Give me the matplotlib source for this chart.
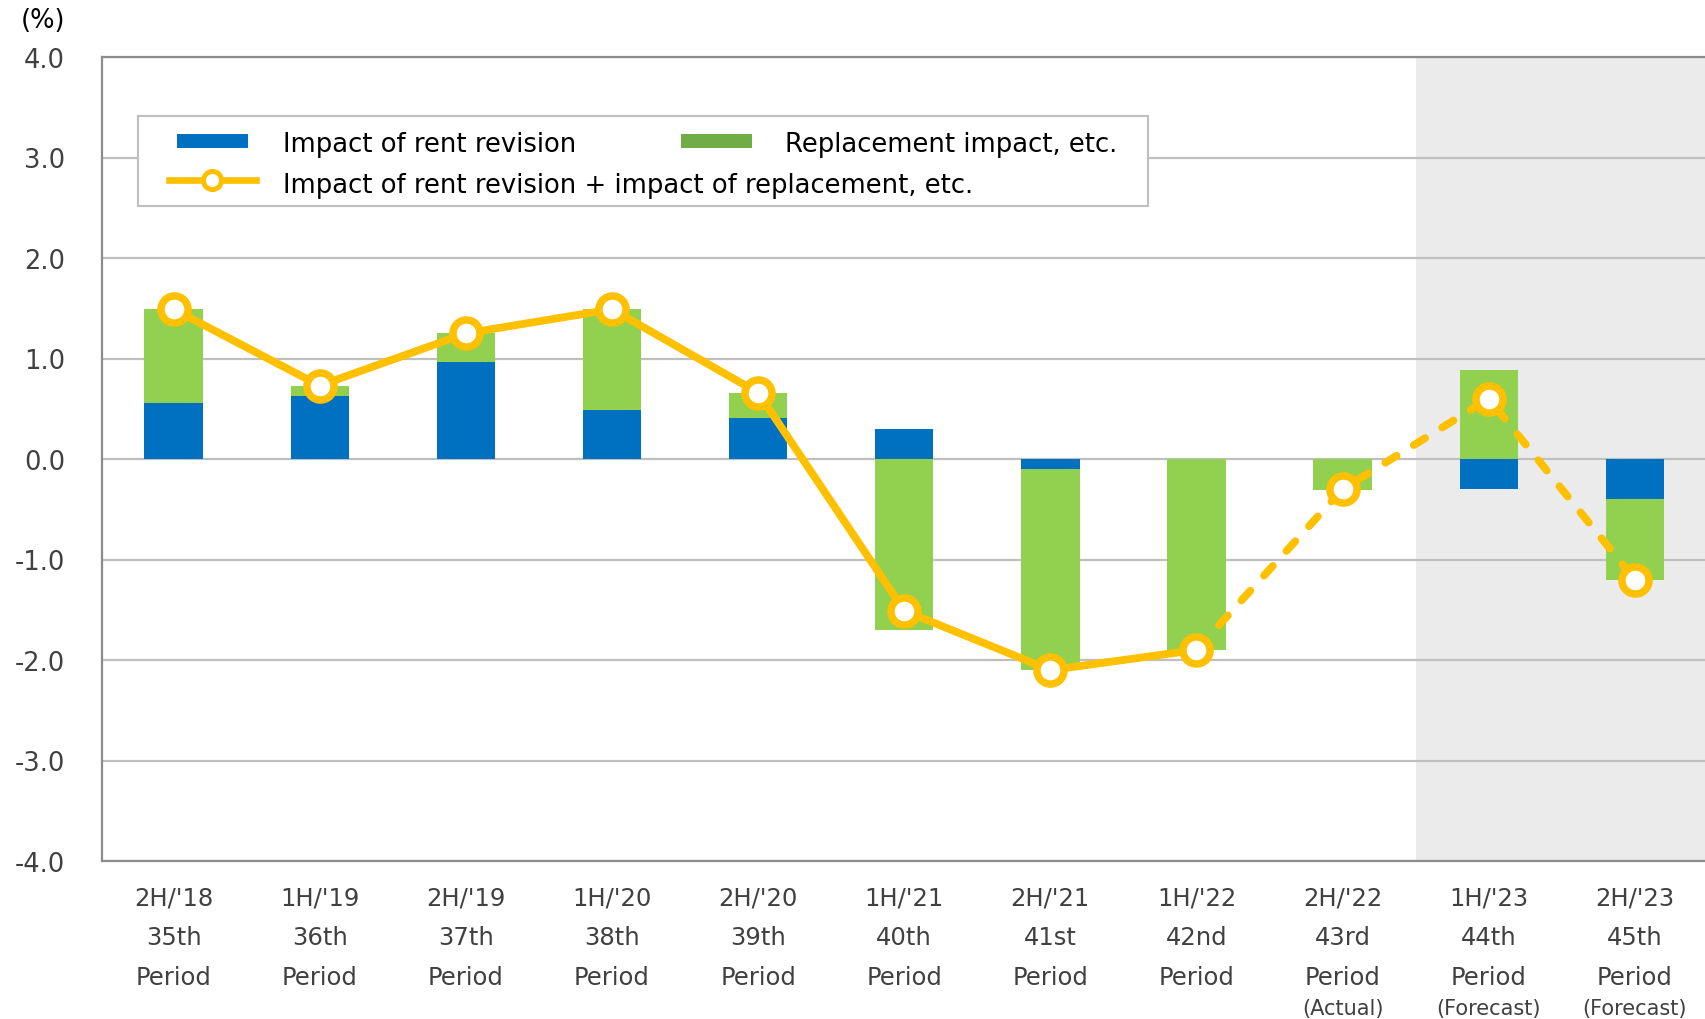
import matplotlib
matplotlib.use("Agg")
import matplotlib.pyplot as plt
from matplotlib.patches import Rectangle
from matplotlib.lines import Line2D
from matplotlib.ticker import FormatStrFormatter
from matplotlib.transforms import blended_transform_factory
import numpy as np

plt.rcParams["font.family"] = ["DejaVu Sans"]
plt.rcParams["axes.unicode_minus"] = False

# ---- data -------------------------------------------------------------
half_years = ["2H/'18", "1H/'19", "2H/'19", "1H/'20", "2H/'20", "1H/'21",
              "2H/'21", "1H/'22", "2H/'22", "1H/'23", "2H/'23"]
period_names = ["35th", "36th", "37th", "38th", "39th", "40th",
                "41st", "42nd", "43rd", "44th", "45th"]
status_notes = ["", "", "", "", "", "", "", "", "(Actual)", "(Forecast)", "(Forecast)"]

rent_revision = [0.56, 0.63, 0.97, 0.49, 0.41, 0.30, -0.10, 0.00, 0.00, -0.30, -0.40]
replacement = [0.93, 0.10, 0.28, 1.00, 0.25, -1.70, -2.00, -1.90, -0.31, 0.89, -0.80]
combined = [1.49, 0.73, 1.25, 1.49, 0.66, -1.51, -2.10, -1.90, -0.30, 0.60, -1.20]

y_ticks = [-4.0, -3.0, -2.0, -1.0, 0.0, 1.0, 2.0, 3.0, 4.0]
last_actual = 7          # solid line up to this period, dashed afterwards
forecast_start = 8.5     # shaded forecast zone begins here

# ---- styles -----------------------------------------------------------
BLUE = "#0070C0"
GREEN = "#92D050"
GREEN_KEY = "#70AD47"
GOLD = "#FFC000"
GRID = "#BFBFBF"
SPINE = "#8C8C8C"
LABEL = "#404040"

W, H = 1705, 1020
fig = plt.figure(figsize=(W / 100, H / 100), dpi=100)
ax = fig.add_axes([102 / W, (H - 862) / H, (W - 102) / W, 804 / H])

x = np.arange(len(half_years))

ax.axvspan(forecast_start, 11, facecolor="#EBEBEB", edgecolor="none", zorder=0.2)

# stacked bars: positives stack upward, negatives stack downward
pos_base = np.zeros(len(x))
neg_base = np.zeros(len(x))
for vals, col in ((rent_revision, BLUE), (replacement, GREEN)):
    vals = np.asarray(vals)
    base = np.where(vals >= 0, pos_base, neg_base)
    ax.bar(x, vals, width=0.4, bottom=base, color=col, zorder=2)
    pos_base = pos_base + np.clip(vals, 0, None)
    neg_base = neg_base + np.clip(vals, None, 0)

line_kw = dict(color=GOLD, lw=5.6, solid_capstyle="round", solid_joinstyle="round", zorder=3)
ax.plot(x[:last_actual + 1], combined[:last_actual + 1], **line_kw)
ax.plot(x[last_actual:], combined[last_actual:], linestyle=(0, (1.7, 2.6)),
        dash_capstyle="round", **line_kw)
ax.plot(x, combined, linestyle="none", marker="o", ms=19.5, mew=5.4,
        mfc="white", mec=GOLD, zorder=4)

ax.set_xlim(-0.49, 10.48)
ax.set_ylim(-4, 4)
ax.set_yticks(y_ticks)
ax.yaxis.set_major_formatter(FormatStrFormatter("%.1f"))
ax.tick_params(axis="y", length=0, pad=26.6, labelsize=18.5, labelcolor=LABEL)
ax.grid(axis="y", color=GRID, lw=1.6)
ax.set_axisbelow(True)

ax.set_xticks(x)
ax.set_xticklabels([f"{h}\n{p}\nPeriod" for h, p in zip(half_years, period_names)],
                   linespacing=1.83)
ax.tick_params(axis="x", length=0, pad=17.5, labelsize=17.5, labelcolor=LABEL)

for side in ("left", "bottom", "top"):
    ax.spines[side].set_color(SPINE)
    ax.spines[side].set_linewidth(1.6)
ax.spines["right"].set_visible(False)

# ---- overlay in pixel coordinates for legend and unit label ------------
ov = fig.add_axes([0, 0, 1, 1], zorder=5)
ov.set_xlim(0, W)
ov.set_ylim(H, 0)
ov.axis("off")

note_tf = blended_transform_factory(ax.transData, ov.transData)
for xi, note in zip(x, status_notes):
    if note:
        ov.text(xi, 1015, note, transform=note_tf, ha="center", va="baseline",
                fontsize=15, color=LABEL)

ov.text(43, 21, "(%)", ha="center", va="center", fontsize=18.5, color="black")

ov.add_patch(Rectangle((138, 117), 1010, 90, facecolor="white", edgecolor=GRID, lw=1.5))
ov.add_patch(Rectangle((177, 135), 71, 13.5, facecolor=BLUE, edgecolor="none"))
ov.add_patch(Rectangle((681, 135), 71, 13.5, facecolor=GREEN_KEY, edgecolor="none"))
ov.add_line(Line2D([169, 256], [181, 181], color=GOLD, lw=4.8))
ov.add_line(Line2D([212], [181], marker="o", ms=13, mew=3.6, mfc="white", mec=GOLD))
ov.text(283, 152, "Impact of rent revision", fontsize=18.6, va="baseline", color="black")
ov.text(785, 152, "Replacement impact, etc.", fontsize=18.6, va="baseline", color="black")
ov.text(283, 193, "Impact of rent revision + impact of replacement, etc.",
        fontsize=18.6, va="baseline", color="black")

fig.savefig("out.png", dpi=100)
